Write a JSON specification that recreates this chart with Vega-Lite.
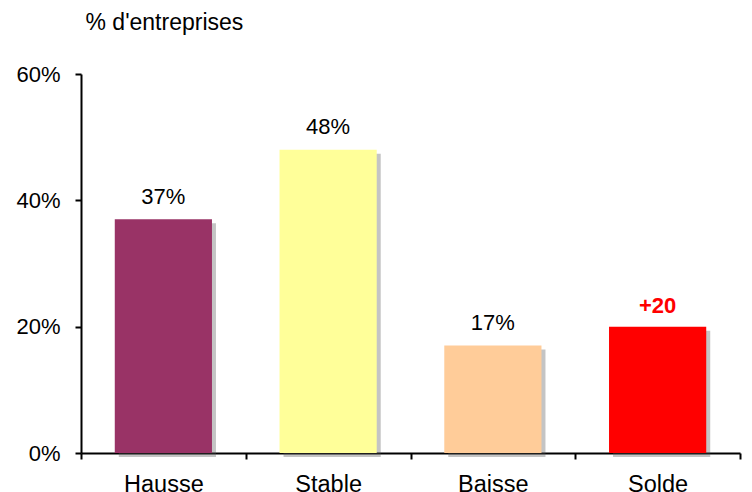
{
  "$schema": "https://vega.github.io/schema/vega-lite/v6.json",
  "width": 659,
  "height": 379,
  "autosize": {"type": "none"},
  "padding": {"left": 81, "top": 74, "right": 12, "bottom": 39},
  "background": "white",
  "config": {
    "view": {"stroke": null},
    "font": "Liberation Sans"
  },
  "data": {
    "values": [
      {"categorie": "Hausse", "valeur": 37, "label": "37%"},
      {"categorie": "Stable", "valeur": 48, "label": "48%"},
      {"categorie": "Baisse", "valeur": 17, "label": "17%"},
      {"categorie": "Solde", "valeur": 20, "label": "+20"}
    ]
  },
  "encoding": {
    "x": {
      "field": "categorie",
      "type": "nominal",
      "sort": null,
      "scale": {"paddingInner": 0, "paddingOuter": 0},
      "axis": {
        "title": null,
        "labelAngle": 0,
        "labelFont": "Liberation Sans",
        "labelFontSize": 23.5,
        "labelColor": "black",
        "labelPadding": 13,
        "tickBand": "extent",
        "tickSize": 6,
        "tickColor": "black",
        "tickWidth": 2,
        "domainColor": "black",
        "domainWidth": 2
      }
    },
    "y": {
      "field": "valeur",
      "type": "quantitative",
      "scale": {"domain": [0, 60], "nice": false},
      "axis": {
        "values": [0, 20, 40, 60],
        "labelExpr": "datum.value + '%'",
        "grid": false,
        "labelFont": "Liberation Sans",
        "labelFontSize": 22,
        "labelColor": "black",
        "labelPadding": 15,
        "tickSize": 6,
        "tickColor": "black",
        "tickWidth": 2,
        "domainColor": "black",
        "domainWidth": 2,
        "title": "% d'entreprises",
        "titleAngle": 0,
        "titleAlign": "left",
        "titleBaseline": "alphabetic",
        "titleX": 4,
        "titleY": -45,
        "titleFont": "Liberation Sans",
        "titleFontSize": 23,
        "titleFontWeight": "normal",
        "titleColor": "black"
      }
    }
  },
  "layer": [
    {
      "mark": {"type": "bar", "width": {"band": 0.59}, "color": "#555555", "opacity": 0.35, "xOffset": 4, "yOffset": 4},
      "encoding": {}
    },
    {
      "mark": {"type": "bar", "width": {"band": 0.59}},
      "encoding": {
        "color": {
          "field": "categorie",
          "type": "nominal",
          "scale": {
            "domain": ["Hausse", "Stable", "Baisse", "Solde"],
            "range": ["#993366", "#FFFF99", "#FFCC99", "#FF0000"]
          },
          "legend": null
        }
      }
    },
    {
      "transform": [{"filter": "datum.categorie !== 'Solde'"}],
      "mark": {"type": "text", "baseline": "alphabetic", "dy": -15.5, "fontSize": 22, "color": "black", "font": "Liberation Sans"},
      "encoding": {"text": {"field": "label"}}
    },
    {
      "transform": [{"filter": "datum.categorie === 'Solde'"}],
      "mark": {"type": "text", "baseline": "alphabetic", "dy": -14, "fontSize": 22, "fontWeight": "bold", "color": "#FF0000", "font": "Liberation Sans"},
      "encoding": {"text": {"field": "label"}}
    }
  ]
}
